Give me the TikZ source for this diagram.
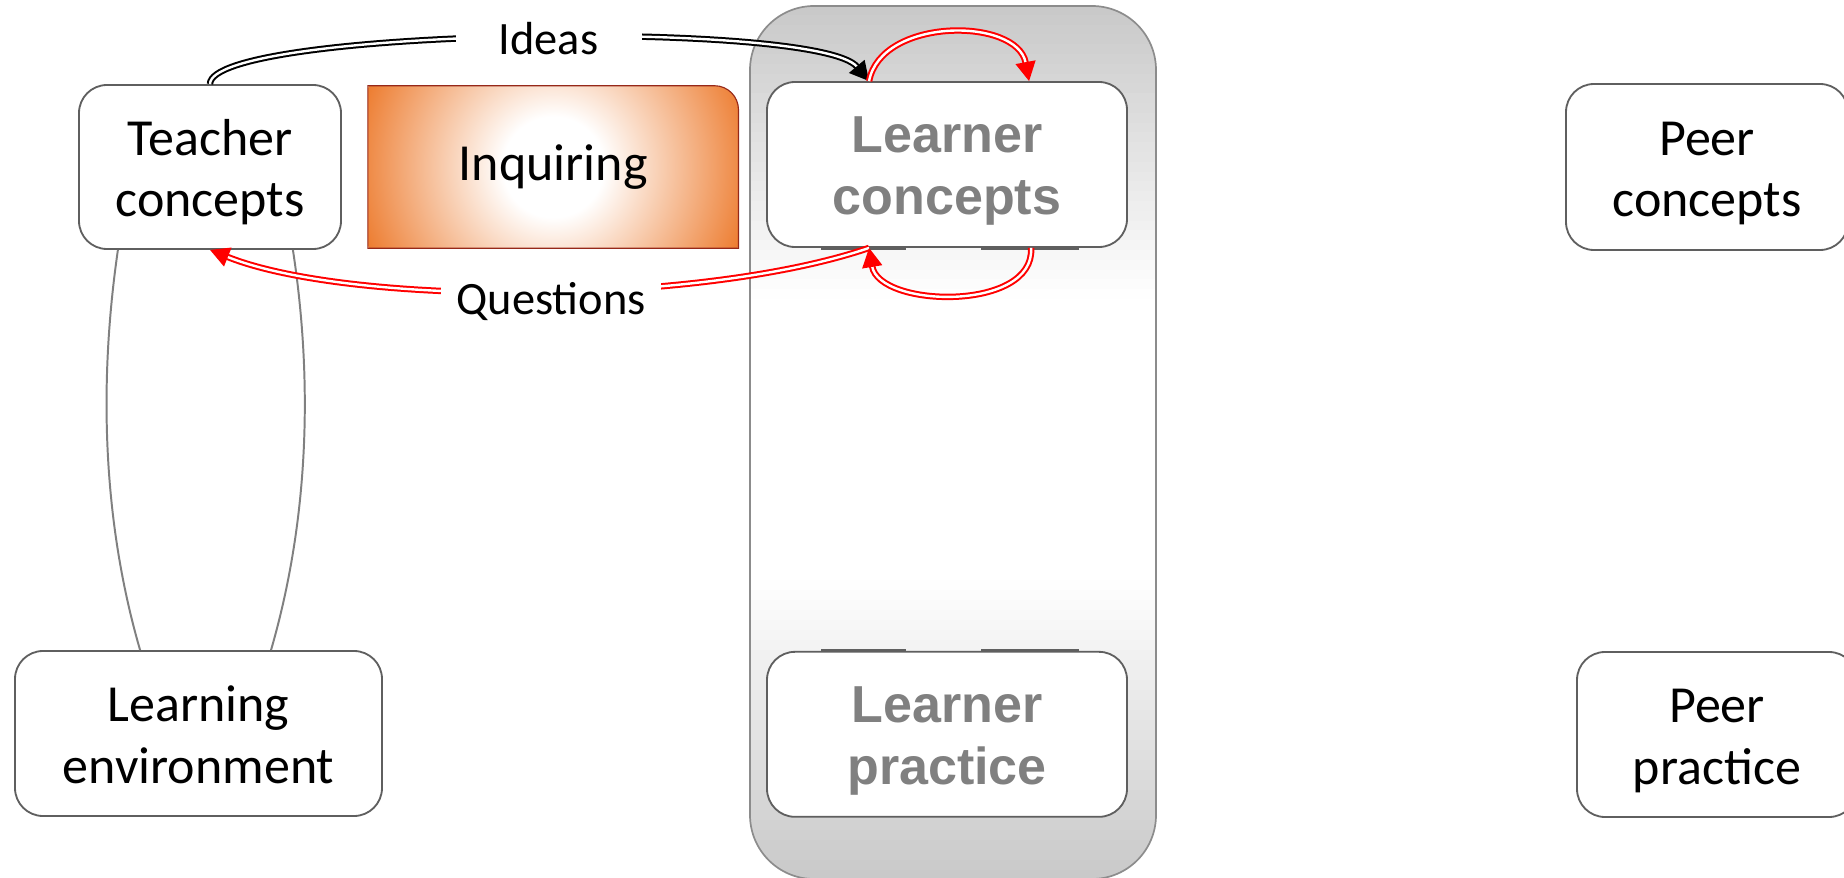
\documentclass[tikz,border=0pt]{standalone}
\usepackage{fontspec}
\setmainfont{Carlito}
\setsansfont{Liberation Sans}
\usetikzlibrary{positioning,calc,arrows.meta,backgrounds}
\definecolor{inqorange}{RGB}{237,125,49}
\definecolor{inqedge}{RGB}{150,40,25}
\definecolor{hazegray}{RGB}{200,200,200}
\definecolor{boxline}{RGB}{95,95,95}
\definecolor{learnergray}{RGB}{128,128,128}
\pgfdeclareradialshading{glow}{\pgfpointorigin}{color(0bp)=(white); color(6.25bp)=(white); color(25bp)=(inqorange); color(50bp)=(inqorange)}
\tikzset{node distance=0.65cm,
  concept/.style={draw=boxline, line width=1.3pt, fill=white, rounded corners=0.7cm, align=center,
    minimum width=6.55cm, minimum height=4.1cm, text height=2.5cm, text depth=0pt,
    font=\fontsize{37}{44}\selectfont},
  learner/.style={concept, minimum width=9cm, minimum height=4.125cm, text=learnergray,
    font=\sffamily\bfseries\fontsize{37}{44}\selectfont},
  inquiry/.style={minimum width=9.25cm, minimum height=4.05cm, font=\fontsize{37}{44}\selectfont},
  flowtag/.style={fill=white, font=\fontsize{33}{40}\selectfont, inner ysep=2pt},
  ideas/.style={draw=black, double=white, line width=0.05cm, double distance=0.06cm,
    -{Triangle[length=0.48cm, width=0.5cm]}},
  query/.style={ideas, draw=red},
  tether/.style={draw=gray, line width=1.4pt},
  ghost/.style={draw=boxline, line width=1.8pt}}

\begin{document}
\begin{tikzpicture}
\useasboundingbox (0,0) rectangle (46.1,21.925);
% top row
\node[concept] (tc) at (5.25,17.75) {Teacher\\concepts};
\node[inquiry] (inq) [right=of tc] {Inquiring};
\node[learner] (lc) at (23.675,17.8125) {Learner\\concepts};
\node[concept, minimum width=7.05cm, minimum height=4.15cm] (pc) at (42.675,17.75) {Peer\\concepts};
% bottom row
\node[concept, minimum width=9.175cm, minimum height=4.125cm] (le) at (4.9625,3.5875) {Learning\\environment};
\node[learner] (lp) [below=10.075cm of lc] {Learner\\practice};
\node[concept, minimum width=7cm, minimum height=4.125cm] (pp) at (42.925,3.5625) {Peer\\practice};

\begin{scope}[on background layer]
  % learner column
  \begin{scope}
    \clip[rounded corners=1.6cm] (18.75,-0.05) rectangle (28.9,21.775);
    \fill[white] (18.75,-0.05) rectangle (28.9,21.775);
    \foreach \i [evaluate=\i as \p using {100-(\i+0.5)*100/30}] in {0,...,29}
      \fill[hazegray!\p!white] (18.75,{21.8-\i*0.245}) rectangle (28.9,{21.8-(\i+1)*0.245-0.01});
    \foreach \i [evaluate=\i as \p using {(\i+0.5)*100/30}] in {0,...,29}
      \fill[hazegray!\p!white] (18.75,{7.425-\i*0.25}) rectangle (28.9,{7.425-(\i+1)*0.25-0.01});
  \end{scope}
  \draw[gray!90, line width=1.2pt, rounded corners=1.6cm] (18.75,-0.05) rectangle (28.9,21.775);
  % inquiring box
  \begin{scope}
    \clip (inq.south west) -- (inq.north west) -- ($(inq.north east)+(-0.6,0)$)
      arc[start angle=90, end angle=0, radius=0.6cm] -- (inq.south east) -- cycle;
    \shade[shading=glow] (inq.center) circle (5.03cm);
  \end{scope}
  \draw[inqedge, line width=0.8pt] (inq.south west) -- (inq.north west) -- ($(inq.north east)+(-0.6,0)$)
    arc[start angle=90, end angle=0, radius=0.6cm] -- (inq.south east) -- cycle;
  \foreach \side/\dy in {lc.south west/-0.02, lp.north west/0.02}
    \foreach \from/\len in {1.375/2.125, 5.375/2.45}
      \draw[ghost] ($(\side)+(\from,\dy)$) -- ++(\len,0);
\end{scope}

\coordinate (lcTL) at ($(lc.north west)+(2.575,0)$);
\coordinate (lcTR) at ($(lc.north west)+(6.575,0)$);
\coordinate (lcBL) at ($(lc.south west)+(2.575,0)$);
\coordinate (lcBR) at ($(lc.south west)+(6.625,0)$);

\draw[tether] (tc.222) .. controls +(-0.475,-3.275) and +(-0.95,3.275) .. (le.125);
\draw[tether] (tc.315) .. controls +(0.5,-3.275) and +(0.95,3.275) .. (le.49);
\draw[ideas] (tc.north) .. controls +(0,1.4) and +(-1.3,1.55) .. node[flowtag, pos=0.53, inner xsep=1.08cm] {Ideas} (lcTL);
\draw[query] (lcBL) .. controls +(-4.25,-1.45) and +(3.5,-1.4) .. node[flowtag, pos=0.47, inner xsep=0.38cm, yshift=-0.25cm] {Questions} (tc.south);
\draw[query] (lcTL) .. controls +(0.3,1.6) and +(-0.3,1.6) .. (lcTR);
\draw[query] (lcBR) .. controls +(0.1,-1.6) and +(0.25,-1.5) .. (lcBL);
\end{tikzpicture}
\end{document}
